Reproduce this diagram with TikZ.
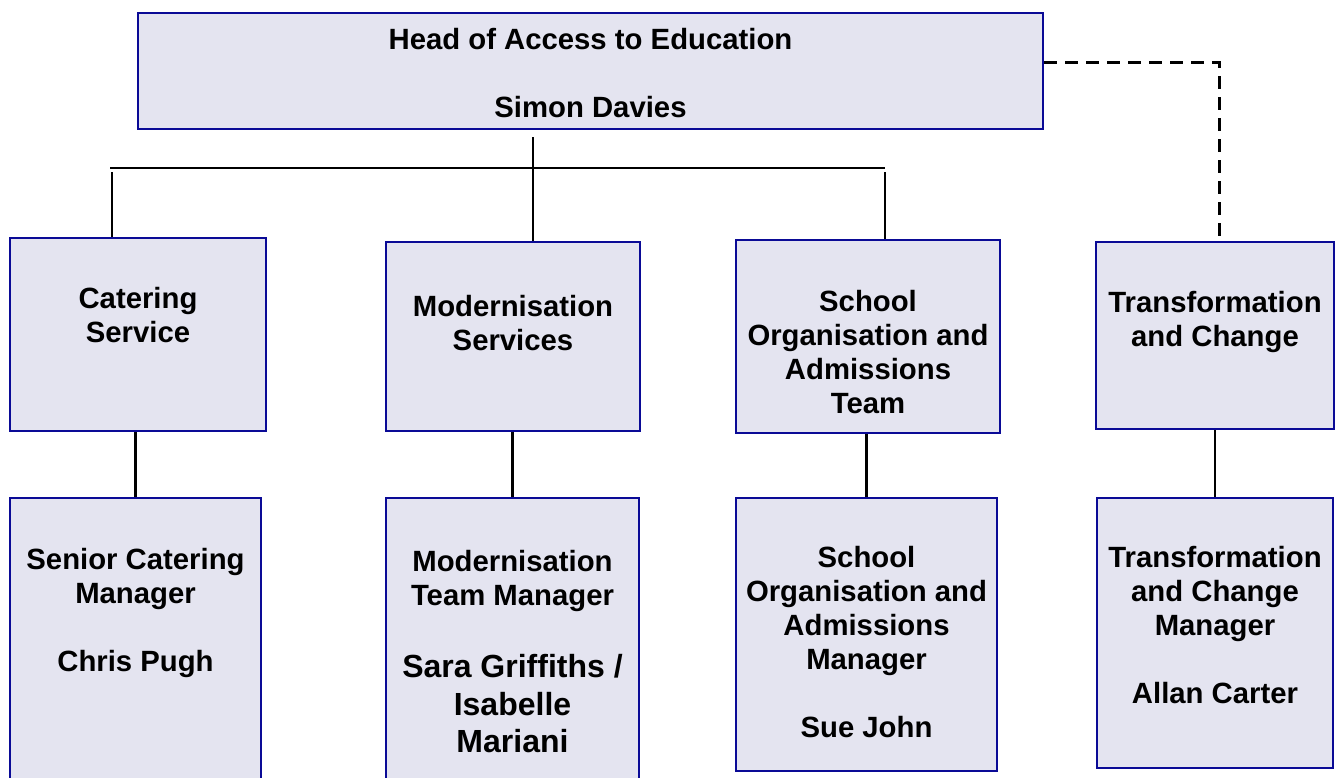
\documentclass[tikz,border=0pt]{standalone}
\usepackage{fontspec}
\setmainfont{Liberation Sans}
\begin{document}
\begin{tikzpicture}[x=1pt,y=-1pt,
  box/.style={draw=boxblue,fill=boxfill,line width=2pt,inner sep=0pt,rectangle},
  lbl/.style={anchor=north,inner sep=0pt,align=center,font=\fontsize{29.3}{34}\selectfont\bfseries},
  lblbig/.style={anchor=north,inner sep=0pt,align=center,font=\fontsize{32}{37.5}\selectfont\bfseries},
  conn/.style={line width=2.4pt,black}]
\definecolor{boxblue}{RGB}{10,10,150}
\definecolor{boxfill}{RGB}{228,228,240}
\clip (0,0) rectangle (1344,777);
\fill[white] (0,0) rectangle (1344,777);
% boxes
\node[box,minimum width=905pt,minimum height=116pt] (head) at (590.5,71) {};
\node[box,minimum width=256pt,minimum height=193pt] (cat) at (138,334.5) {};
\node[box,minimum width=254pt,minimum height=189pt] (mod) at (513,336.5) {};
\node[box,minimum width=264pt,minimum height=193pt] (sch) at (868,336.5) {};
\node[box,minimum width=238pt,minimum height=187pt] (tra) at (1215,335.5) {};
\node[box,minimum width=251pt,minimum height=300pt] (catm) at (135.5,648) {};
\node[box,minimum width=253pt,minimum height=300pt] (modm) at (512.5,648) {};
\node[box,minimum width=261pt,minimum height=273pt] (schm) at (866.5,634.5) {};
\node[box,minimum width=236pt,minimum height=270pt] (tram) at (1215,633) {};
% texts
\node[lbl] (thead) at (590.5,28.5) {Head of Access to Education\\[34pt]Simon Davies};
\node[lbl] (tcat) at (138,287.5) {Catering\\Service};
\node[lbl] (tmod) at (513,295.5) {Modernisation\\Services};
\node[lbl] (tsch) at (868,290.5) {School\\Organisation and\\Admissions\\Team};
\node[lbl] (ttra) at (1215,291.5) {Transformation\\and Change};
\node[lbl] (tcatm) at (135.5,548.5) {Senior Catering\\Manager\\[34pt]Chris Pugh};
\node[lbl] (tmodm) at (512.5,550.5) {Modernisation\\Team Manager};
\node[lblbig] (tmodn) at (512.5,654.5) {Sara Griffiths /\\Isabelle\\Mariani};
\node[lbl] (tschm) at (866.5,546.5) {School\\Organisation and\\Admissions\\Manager\\[34pt]Sue John};
\node[lbl] (ttram) at (1215,546.5) {Transformation\\and Change\\Manager\\[34pt]Allan Carter};
% connectors
\coordinate (hs) at (533,137);
\coordinate (hl) at (110,168);
\coordinate (hr) at (885,168);
\coordinate (cl) at (112,172);
\coordinate (cr) at (885,172);
\coordinate (dk) at (1219,62);
\draw[conn] (hl) -- (hr);
\draw[conn] (hs) -- (mod.north -| hs);
\draw[conn] (cl) -- (cat.north -| cl);
\draw[conn] (cr) -- (sch.north -| cr);
\draw[conn,line width=3pt,dash pattern=on 13pt off 8pt] (head.east |- dk) -- (dk) -- (tra.north -| dk);
\draw[conn] (cat.south -| catm) -- (catm.north);
\draw[conn] (mod.south -| modm) -- (modm.north);
\draw[conn] (sch.south -| schm) -- (schm.north);
\draw[conn] (tra.south -| tram) -- (tram.north);
\end{tikzpicture}
\end{document}
